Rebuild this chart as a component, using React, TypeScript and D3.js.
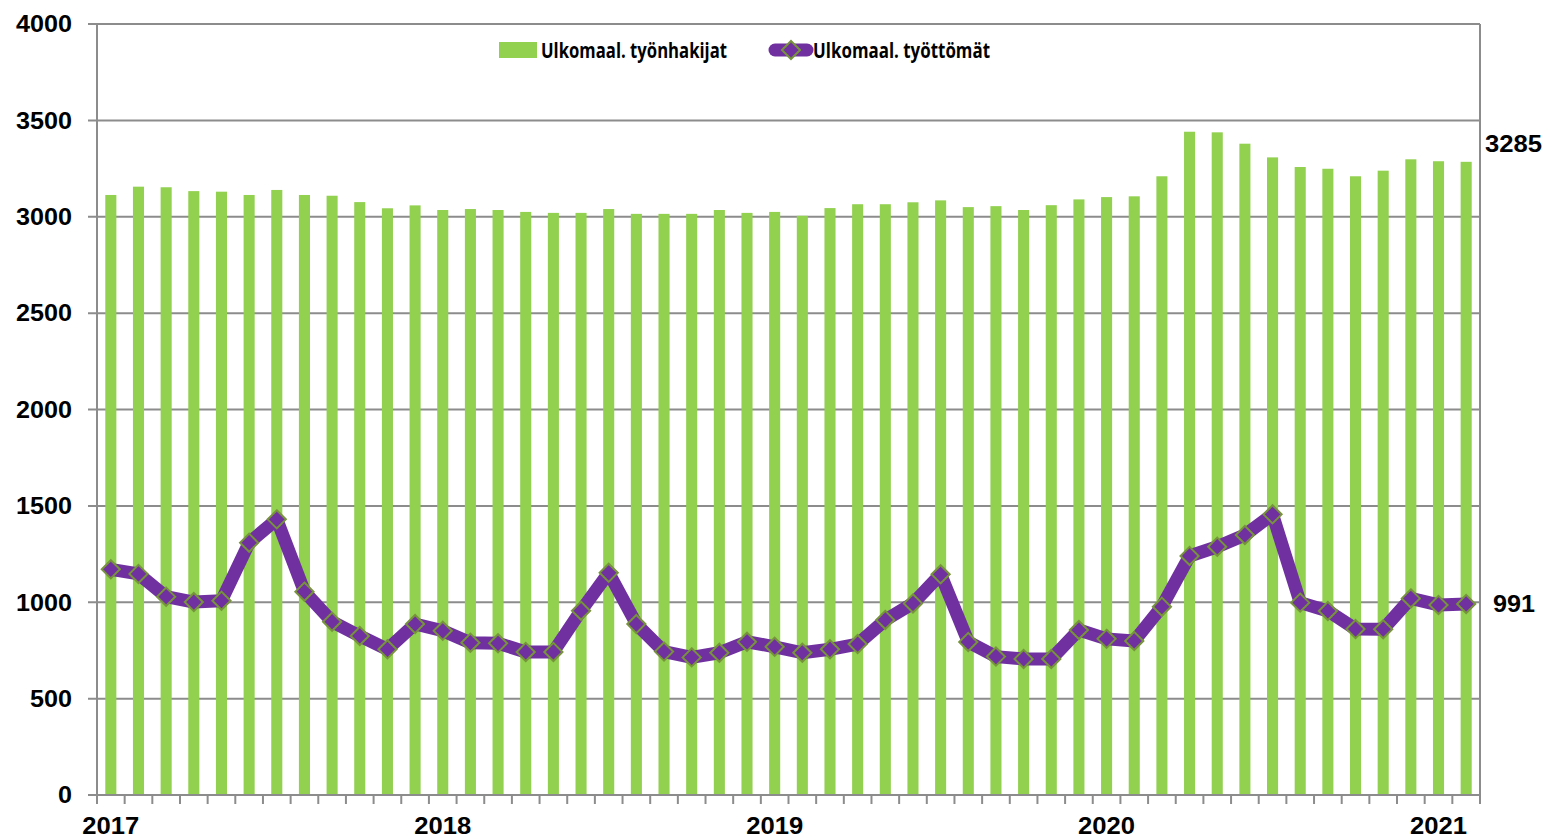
import React, { useRef, useEffect } from 'react';
import * as d3 from 'd3';

// monthly categories, Jan 2017 .. Feb 2021
const months = [
  '2017-01', '2017-02', '2017-03', '2017-04', '2017-05', '2017-06', '2017-07', '2017-08', '2017-09', '2017-10', '2017-11', '2017-12',
  '2018-01', '2018-02', '2018-03', '2018-04', '2018-05', '2018-06', '2018-07', '2018-08', '2018-09', '2018-10', '2018-11', '2018-12',
  '2019-01', '2019-02', '2019-03', '2019-04', '2019-05', '2019-06', '2019-07', '2019-08', '2019-09', '2019-10', '2019-11', '2019-12',
  '2020-01', '2020-02', '2020-03', '2020-04', '2020-05', '2020-06', '2020-07', '2020-08', '2020-09', '2020-10', '2020-11', '2020-12',
  '2021-01', '2021-02',
];

// Ulkomaal. työnhakijat (bars)
const jobSeekers = [
  3113, 3156, 3153, 3133, 3130, 3113, 3139, 3113, 3109, 3076, 3044, 3059,
  3035, 3040, 3035, 3025, 3020, 3020, 3040, 3015, 3015, 3015, 3035, 3020,
  3025, 3005, 3045, 3065, 3065, 3075, 3085, 3050, 3055, 3035, 3060, 3090,
  3102, 3106, 3210, 3441, 3438, 3379, 3308, 3258, 3249, 3210, 3239, 3298,
  3288, 3285,
];

// Ulkomaal. työttömät (line)
const unemployed = [
  1171, 1147, 1029, 1001, 1008, 1309, 1430, 1055, 899, 825, 756, 887,
  852, 790, 787, 742, 742, 956, 1153, 887, 744, 714, 738, 795,
  769, 738, 756, 783, 908, 994, 1145, 794, 718, 706, 706, 856,
  810, 799, 977, 1240, 1288, 1349, 1456, 998, 955, 861, 860, 1020,
  986, 991,
];

const yTicks = [0, 500, 1000, 1500, 2000, 2500, 3000, 3500, 4000];
const yearTicks = ['2017-01', '2018-01', '2019-01', '2020-01', '2021-01'];

const W = 1546;
const H = 839;
const margin = { top: 24, right: 66, bottom: 44, left: 97 };
const numFont = '"Liberation Sans", Arial, sans-serif';
const legendFont = '"Open Sans", Lato, sans-serif';

const Chart = () => {
  const ref = useRef<SVGSVGElement>(null);

  useEffect(() => {
    const svg = d3.select(ref.current);
    svg.selectAll('*').remove();

    const width = W - margin.left - margin.right;
    const height = H - margin.top - margin.bottom;

    const x = d3.scaleBand().domain(months).range([margin.left, margin.left + width]).paddingInner(0.6).paddingOuter(0.3);
    const xc = (m: string) => (x(m) as number) + x.bandwidth() / 2;
    const y = d3.scaleLinear().domain([0, 4000]).range([margin.top + height, margin.top]);

    const left = margin.left;
    const right = margin.left + width;
    const bottom = margin.top + height;
    const grey = '#8c8c8c';

    // gridlines + left ticks
    svg.append('g')
      .selectAll('line')
      .data(yTicks)
      .enter().append('line')
      .attr('x1', left - 9).attr('x2', right)
      .attr('y1', d => y(d)).attr('y2', d => y(d))
      .attr('stroke', grey).attr('stroke-width', 2);

    // y labels
    svg.append('g')
      .selectAll('text')
      .data(yTicks)
      .enter().append('text')
      .attr('x', 72).attr('y', d => y(d))
      .attr('dy', '0.36em')
      .attr('text-anchor', 'end')
      .attr('font-family', numFont).attr('font-weight', 'bold').attr('font-size', 23)
      .attr('textLength', d => String(d).length * 14)
      .attr('lengthAdjust', 'spacingAndGlyphs')
      .text(d => d);

    // bars
    svg.append('g')
      .selectAll('rect')
      .data(months)
      .enter().append('rect')
      .attr('x', d => x(d) as number)
      .attr('width', x.bandwidth())
      .attr('y', (d, i) => y(jobSeekers[i]))
      .attr('height', (d, i) => bottom - y(jobSeekers[i]))
      .attr('fill', '#92D050');

    // axes frame
    svg.append('line').attr('x1', left).attr('x2', left).attr('y1', margin.top).attr('y2', bottom + 9)
      .attr('stroke', grey).attr('stroke-width', 2);
    svg.append('line').attr('x1', right).attr('x2', right).attr('y1', margin.top).attr('y2', bottom + 9)
      .attr('stroke', grey).attr('stroke-width', 2);
    svg.append('line').attr('x1', left).attr('x2', right).attr('y1', bottom).attr('y2', bottom)
      .attr('stroke', grey).attr('stroke-width', 2);

    // x tick marks at month boundaries
    const boundaries = months.map(m => (x(m) as number) - x.bandwidth() * 0.75);
    svg.append('g')
      .selectAll('line')
      .data(boundaries.slice(1))
      .enter().append('line')
      .attr('x1', d => d).attr('x2', d => d)
      .attr('y1', bottom).attr('y2', bottom + 9)
      .attr('stroke', grey).attr('stroke-width', 2);

    // year labels
    svg.append('g')
      .selectAll('text')
      .data(yearTicks)
      .enter().append('text')
      .attr('x', d => xc(d)).attr('y', 834)
      .attr('text-anchor', 'middle')
      .attr('font-family', numFont).attr('font-weight', 'bold').attr('font-size', 23)
      .attr('textLength', 57).attr('lengthAdjust', 'spacingAndGlyphs')
      .text(d => d.slice(0, 4));

    // line
    const line = d3.line<number>()
      .x((d, i) => xc(months[i]))
      .y(d => y(d));
    svg.append('path')
      .datum(unemployed)
      .attr('d', line)
      .attr('fill', 'none')
      .attr('stroke', '#7030A0')
      .attr('stroke-width', 13)
      .attr('stroke-linejoin', 'round');

    const diamond = d3.symbol().type(d3.symbolDiamond2).size(210);
    svg.append('g')
      .selectAll('path')
      .data(unemployed)
      .enter().append('path')
      .attr('d', diamond)
      .attr('transform', (d, i) => `translate(${xc(months[i])},${y(d)})`)
      .attr('fill', '#7030A0')
      .attr('stroke', '#77933C')
      .attr('stroke-width', 2);

    // end labels
    const last = months.length - 1;
    svg.append('text')
      .attr('x', right + 5).attr('y', y(jobSeekers[last]) - 18)
      .attr('dy', '0.36em')
      .attr('font-family', numFont).attr('font-weight', 'bold').attr('font-size', 23)
      .attr('textLength', 57).attr('lengthAdjust', 'spacingAndGlyphs')
      .text(jobSeekers[last]);
    svg.append('text')
      .attr('x', right + 13).attr('y', y(unemployed[last]))
      .attr('dy', '0.36em')
      .attr('font-family', numFont).attr('font-weight', 'bold').attr('font-size', 23)
      .attr('textLength', 42).attr('lengthAdjust', 'spacingAndGlyphs')
      .text(unemployed[last]);

    // legend
    const lg = svg.append('g');
    lg.append('rect').attr('x', 499).attr('y', 42).attr('width', 38).attr('height', 16).attr('fill', '#92D050');
    lg.append('text')
      .attr('x', 541).attr('y', 50).attr('dy', '0.36em')
      .attr('font-family', legendFont).attr('font-weight', 700).attr('font-size', 21)
      .attr('textLength', 186).attr('lengthAdjust', 'spacingAndGlyphs')
      .text('Ulkomaal. työnhakijat');
    lg.append('line').attr('x1', 775).attr('x2', 807).attr('y1', 50).attr('y2', 50)
      .attr('stroke', '#7030A0').attr('stroke-width', 13).attr('stroke-linecap', 'round');
    lg.append('path').attr('d', diamond).attr('transform', 'translate(791,50)')
      .attr('fill', '#7030A0').attr('stroke', '#77933C').attr('stroke-width', 2);
    lg.append('text')
      .attr('x', 813).attr('y', 50).attr('dy', '0.36em')
      .attr('font-family', legendFont).attr('font-weight', 700).attr('font-size', 21)
      .attr('textLength', 177).attr('lengthAdjust', 'spacingAndGlyphs')
      .text('Ulkomaal. työttömät');
  }, []);

  return (
    <svg ref={ref} width={W} height={H} style={{ position: 'absolute', left: 0, top: 0, background: '#fff' }}></svg>
  );
};

export default function App() {
  return <Chart />;
}
